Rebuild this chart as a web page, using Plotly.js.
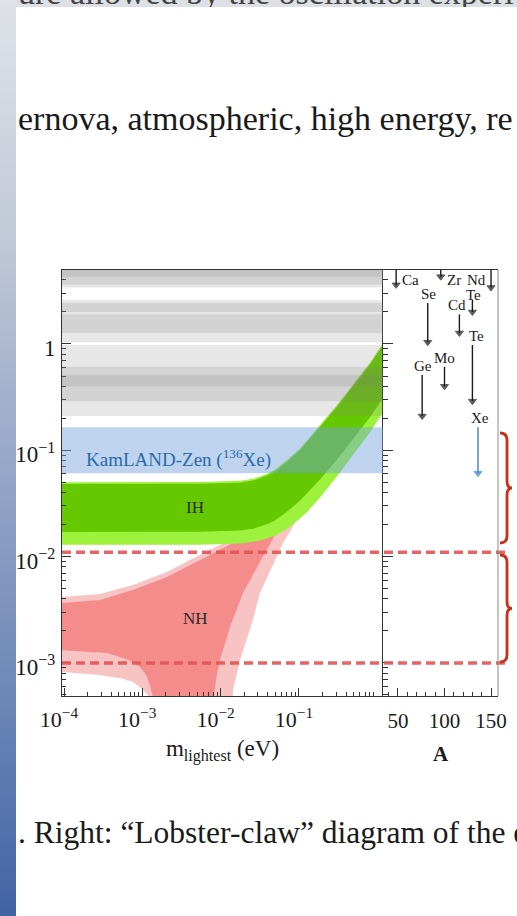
<!DOCTYPE html>
<html>
<head>
<meta charset="utf-8">
<script src="https://cdn.plot.ly/plotly-3.0.1.min.js"></script>
<style>
  html,body{margin:0;padding:0;background:#fff;}
  body{width:517px;height:916px;overflow:hidden;position:relative;font-family:"Liberation Serif",serif;}
  #strip{position:absolute;left:0;top:0;width:16px;height:916px;
    background:linear-gradient(to bottom,#dfe2e8 0%,#c3cad8 25%,#97a8c8 50%,#6f88b8 75%,#4263a3 100%);}
  #topbar{position:absolute;left:16px;top:0;width:501px;height:7px;background:#dde0e5;overflow:hidden;}
  .ptxt{position:absolute;white-space:nowrap;color:#1a1a1a;line-height:1;}
  #chart{position:absolute;left:0;top:0;width:517px;height:916px;}
</style>
</head>
<body>
<div id="strip"></div>
<div id="topbar"><div class="ptxt" style="left:2px;top:-24px;font-size:34px;color:#444;">ure allowed by the oscillation experi</div></div>
<div class="ptxt" style="left:18px;top:102px;font-size:34px;">ernova, atmospheric, high energy, re</div>
<div class="ptxt" style="left:18px;top:817px;font-size:31.5px;">. Right: “Lobster-claw” diagram of the e</div>
<div id="chart"></div>
<script>
// ---------------- data ----------------
const xTickVals = [1e-4, 1e-3, 1e-2, 1e-1];
const xTickText = ['10<sup>−4</sup>', '10<sup>−3</sup>', '10<sup>−2</sup>', '10<sup>−1</sup>'];
const yTickVals = [1e-3, 1e-2, 1e-1, 1];
const yTickText = ['10<sup>−3</sup>', '10<sup>−2</sup>', '10<sup>−1</sup>', '1'];
const aTickVals = [50, 100, 150];
const aMinorVals = [40, 60, 70, 80, 90, 110, 120, 130, 140];

// Inverted hierarchy band (m_lightest in eV, <m_bb> in eV)
const ihMass      = [9.4e-5, 5.46e-3, 0.0177, 0.0259, 0.0318, 0.0405, 0.0495, 0.0705, 0.103, 0.127, 0.186, 0.307, 0.491, 0.809, 1.186];
const ihBestUpper = [0.0482, 0.0484, 0.0496, 0.0520, 0.0545, 0.0585, 0.0635, 0.078, 0.100, 0.120, 0.168, 0.257, 0.40, 0.64, 0.98];
const ihBestLower = [0.0170, 0.0171, 0.0176, 0.0183, 0.0192, 0.0204, 0.0219, 0.0265, 0.0335, 0.0390, 0.053, 0.082, 0.127, 0.205, 0.31];
const ih3sUpper   = [0.0502, 0.0503, 0.0516, 0.0541, 0.0567, 0.0608, 0.066, 0.081, 0.104, 0.125, 0.175, 0.267, 0.416, 0.666, 1.02];
const ih3sLower   = [0.0129, 0.0129, 0.0133, 0.0138, 0.0142, 0.0149, 0.0157, 0.0182, 0.0228, 0.0262, 0.0360, 0.057, 0.091, 0.148, 0.229];

// Normal hierarchy band
const nhBestUpperM = [9.4e-5, 2.88e-4, 7.6e-4, 2.07e-3, 5.46e-3, 9.8e-3, 0.0144, 0.0318, 0.103, 1.186];
const nhBestUpperV = [0.00366, 0.00391, 0.00485, 0.00643, 0.00929, 0.0115, 0.0134, 0.0198, 0.09, 0.95];
const nhBestLowerM = [9.4e-5, 3.54e-4, 6.5e-4, 9.35e-4, 1.12e-3, 1.25e-3, 1.38e-3, 1.5e-3, 7.8e-3, 8.0e-3, 9.0e-3, 9.8e-3, 0.0132, 0.0193, 0.0318, 0.0495, 0.103, 1.186];
const nhBestLowerV = [0.00132, 0.00124, 0.00108, 0.000914, 0.00077, 0.00062, 0.00046, 1e-5, 1e-5, 0.000448, 0.00078, 0.00106, 0.00218, 0.00455, 0.00889, 0.0160, 0.0340, 0.32];
const nh3sUpperM = [9.4e-5, 2.88e-4, 7.6e-4, 2.07e-3, 5.46e-3, 9.8e-3, 0.0177, 0.0318, 0.103, 1.186];
const nh3sUpperV = [0.00417, 0.00445, 0.00541, 0.00716, 0.0104, 0.0129, 0.0160, 0.0221, 0.09, 0.95];
const nh3sLowerM = [9.4e-5, 2.88e-4, 5.66e-4, 7.6e-4, 9.35e-4, 1.1e-3, 1.25e-3, 1.3e-3, 0.0135, 0.0144, 0.0177, 0.0259, 0.0318, 0.0627, 0.103, 1.186];
const nh3sLowerV = [0.00082, 0.00077, 0.00071, 0.00066, 0.00059, 0.00053, 0.00047, 1e-5, 1e-5, 0.000556, 0.00106, 0.00254, 0.00455, 0.0134, 0.0246, 0.25];

// KamLAND-Zen limit band
const kzLow = 0.061, kzHigh = 0.165;

// Limits per isotope (right panel), upper/lower ends in eV
const isoNames = ['Ca', 'Zr', 'Nd', 'Se', 'Te', 'Cd', 'Te', 'Ge', 'Mo', 'Xe'];
const isoA     = [48, 96, 150, 82, 130, 116, 130, 76, 100, 136];
const isoHi    = [5.0, 5.0, 5.0, 2.43, 2.6, 1.9, 0.98, 0.51, 0.61, 0.165];
const isoLo    = [3.6, 4.3, 3.4, 1.04, 2.0, 1.27, 0.29, 0.21, 0.40, 0.061];

// Sensitivity levels (dashed lines)
const dashLevels = [0.011, 0.001];

// ---------------- styling / layout ----------------
const W = 517, H = 916;
const px = x => x / W, py = y => 1 - y / H;
const FONT = 'Liberation Serif, Times New Roman, serif';

const minorLog = [];
for (let e = -4; e <= 0; e++) for (let k = 2; k <= 9; k++) minorLog.push(k * Math.pow(10, e));

function poly(upM, upV, loM, loV, color) {
  return {
    type: 'scatter', mode: 'lines', xaxis: 'x', yaxis: 'y',
    x: upM.concat(loM.slice().reverse()),
    y: upV.concat(loV.slice().reverse()),
    fill: 'toself', fillcolor: color, line: {width: 0, color: color},
    hoverinfo: 'skip'
  };
}

const traces = [
  poly(nh3sUpperM, nh3sUpperV, nh3sLowerM, nh3sLowerV, '#f8c3c3'),
  poly(nhBestUpperM, nhBestUpperV, nhBestLowerM, nhBestLowerV, '#f48c8c'),
  poly(ihMass, ih3sUpper, ihMass, ih3sLower, '#9cf23c'),
  poly(ihMass, ihBestUpper, ihMass, ihBestLower, '#66c800')
];

// isotope arrows on right panel
isoNames.forEach((n, i) => {
  const col = n === 'Xe' ? '#3a82c4' : '#1a1a1a';
  traces.push({
    type: 'scatter', mode: 'lines+markers', xaxis: 'x2', yaxis: 'y2',
    x: [isoA[i], isoA[i]], y: [isoHi[i], isoLo[i]],
    line: {color: col, width: 1.4},
    marker: {symbol: ['line-ew', 'triangle-down'], size: [0, 7], color: col,
             line: {color: col, width: 1}},
    cliponaxis: false, hoverinfo: 'skip'
  });
});

const shapes = [];
// grey limit bands from other isotopes (projected onto left panel)
isoNames.forEach((n, i) => {
  if (n === 'Xe') return;
  shapes.push({type: 'rect', xref: 'x domain', yref: 'y', x0: 0, x1: 1,
    y0: isoLo[i], y1: isoHi[i], fillcolor: 'rgba(120,120,120,0.18)', line: {width: 0}, layer: 'above'});
});
// KamLAND-Zen band
shapes.push({type: 'rect', xref: 'x domain', yref: 'y', x0: 0, x1: 1, y0: kzLow, y1: kzHigh,
  fillcolor: 'rgba(110,160,218,0.45)', line: {width: 0}, layer: 'above'});
// dashed lines
dashLevels.forEach(v => shapes.push({type: 'line', xref: 'paper', yref: 'y', x0: px(62), x1: px(505),
  y0: v, y1: v, line: {color: 'rgba(226,84,84,0.9)', width: 3.5, dash: '9px,5px'}, layer: 'above'}));
// right frame of the right panel
shapes.push({type: 'line', xref: 'paper', yref: 'paper', x0: px(498), x1: px(498), y0: py(270), y1: py(696),
  line: {color: '#8a8a8a', width: 1}, layer: 'above'});
// curly braces
function bracePath(x0, yTop, yBot) {
  const xs = x0 + 7, xt = x0 + 12, ym = (yTop + yBot) / 2, r = 7;
  const P = (x, y) => px(x).toFixed(5) + ',' + py(y).toFixed(5);
  return 'M ' + P(x0, yTop) + ' Q ' + P(xs, yTop) + ' ' + P(xs, yTop + r) +
         ' L ' + P(xs, ym - r) + ' Q ' + P(xs, ym) + ' ' + P(xt, ym) +
         ' Q ' + P(xs, ym) + ' ' + P(xs, ym + r) +
         ' L ' + P(xs, yBot - r) + ' Q ' + P(xs, yBot) + ' ' + P(x0, yBot);
}
[[433, 543], [555, 662]].forEach(b => shapes.push({type: 'path', xref: 'paper', yref: 'paper',
  path: bracePath(500, b[0], b[1]), line: {color: '#c4321c', width: 2.8}, layer: 'above'}));

// isotope labels: [xshift, yshift, xanchor, yanchor]
const isoLabelPos = [
  [4, 0, 'left', 'top'], [4, 0, 'left', 'top'], [-3, 0, 'right', 'top'],
  [1, -1, 'center', 'bottom'], [1, -5, 'center', 'bottom'], [-2, -1, 'center', 'bottom'],
  [4, -1, 'center', 'bottom'], [1, -1, 'center', 'bottom'], [0, -1, 'center', 'bottom'], [2, -1, 'center', 'bottom']
];
const annotations = isoNames.map((n, i) => ({
  xref: 'x2', yref: 'y2', x: isoA[i], y: Math.log10(Math.min(isoHi[i], 4.95)),
  text: n, showarrow: false, xanchor: isoLabelPos[i][2], yanchor: isoLabelPos[i][3],
  xshift: isoLabelPos[i][0], yshift: isoLabelPos[i][1],
  font: {family: FONT, size: 15, color: '#1a1a1a'}
}));
annotations.push(
  {xref: 'paper', yref: 'paper', x: px(178), y: py(458), text: 'KamLAND-Zen (<sup>136</sup>Xe)',
   showarrow: false, font: {family: FONT, size: 19, color: '#2c6aa8'}},
  {xref: 'paper', yref: 'paper', x: px(195), y: py(508), text: 'IH',
   showarrow: false, font: {family: FONT, size: 17, color: '#2a2a2a'}},
  {xref: 'paper', yref: 'paper', x: px(195), y: py(630), text: 'NH',
   showarrow: false, font: {family: FONT, size: 17, color: '#2a2a2a'}}
);

const axCommon = {showgrid: false, zeroline: false, showline: true, linecolor: '#333', linewidth: 1,
  ticks: 'inside', tickcolor: '#333', tickwidth: 1};
const yRange = [-3.311, 0.696];

const layout = {
  width: W, height: H, margin: {l: 0, r: 0, t: 0, b: 0},
  paper_bgcolor: 'rgba(0,0,0,0)', plot_bgcolor: 'rgba(0,0,0,0)',
  showlegend: false, font: {family: FONT, color: '#1a1a1a'},
  xaxis: Object.assign({}, axCommon, {
    domain: [px(62), px(383)], anchor: 'y', type: 'log', range: [-4.0255, 0.074],
    tickmode: 'array', tickvals: xTickVals, ticktext: xTickText, ticklen: 8, mirror: true,
    tickfont: {family: FONT, size: 22, color: '#1a1a1a'}, ticklabelstandoff: 4, ticklabelshift: -5,
    minor: {tickmode: 'array', tickvals: minorLog, ticks: 'inside', ticklen: 4, tickcolor: '#333', showgrid: false},
    title: {text: 'm<sub>lightest</sub> (eV)', font: {family: FONT, size: 23, color: '#1a1a1a'}, standoff: 8}
  }),
  yaxis: Object.assign({}, axCommon, {
    domain: [py(696), py(270)], anchor: 'x', type: 'log', range: yRange,
    tickmode: 'array', tickvals: yTickVals, ticktext: yTickText, ticklen: 9,
    tickfont: {family: FONT, size: 23, color: '#1a1a1a'}, ticklabelstandoff: 1, ticklabelshift: 4,
    minor: {tickmode: 'array', tickvals: minorLog, ticks: 'inside', ticklen: 4, tickcolor: '#333', showgrid: false}
  }),
  xaxis2: Object.assign({}, axCommon, {
    domain: [px(383), px(498)], anchor: 'y2', type: 'linear', range: [33.9, 157.5],
    tickmode: 'array', tickvals: aTickVals, ticklen: 8, mirror: true,
    tickfont: {family: FONT, size: 21, color: '#1a1a1a'}, ticklabelstandoff: 6,
    minor: {tickmode: 'array', tickvals: aMinorVals, ticks: 'inside', ticklen: 4, tickcolor: '#333', showgrid: false},
    title: {text: '<b>A</b>', font: {family: FONT, size: 21, color: '#1a1a1a'}, standoff: 14}
  }),
  yaxis2: Object.assign({}, axCommon, {
    domain: [py(696), py(270)], anchor: 'x2', type: 'log', range: yRange,
    tickmode: 'array', tickvals: yTickVals, ticklen: 10, showticklabels: false,
    minor: {tickmode: 'array', tickvals: minorLog, ticks: 'inside', ticklen: 5, tickcolor: '#333', showgrid: false}
  }),
  shapes: shapes,
  annotations: annotations
};

Plotly.newPlot('chart', traces, layout, {displayModeBar: false, staticPlot: true});
</script>
</body>
</html>
